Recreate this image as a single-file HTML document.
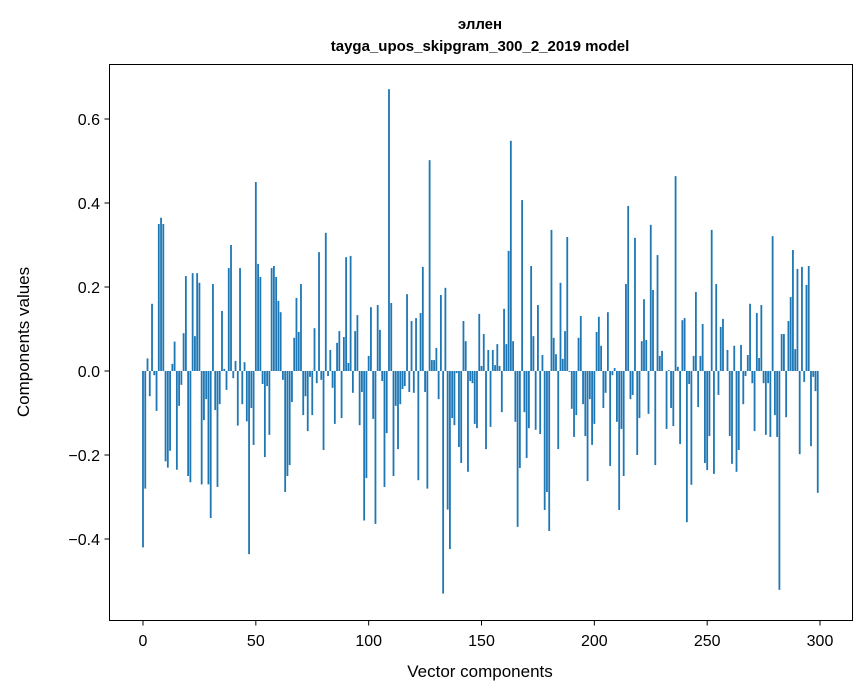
<!DOCTYPE html>
<html><head><meta charset="utf-8"><style>
body{margin:0;background:#fff;}
svg{display:block;font-family:"Liberation Sans","DejaVu Sans",sans-serif;}
</style></head><body>
<svg id="chart" width="867" height="696">
<text x="480" y="29" text-anchor="middle" font-size="15" font-weight="bold">эллен</text>
<text x="480" y="51" text-anchor="middle" font-size="15" font-weight="bold">tayga_upos_skipgram_300_2_2019 model</text>
<g id="bars"></g>
<rect x="109.5" y="64.5" width="743" height="556" fill="none" stroke="#000" stroke-width="1"/>
<g id="axes"></g>
<text x="480" y="677" text-anchor="middle" font-size="17">Vector components</text>
<text transform="translate(29,342) rotate(-90)" text-anchor="middle" font-size="17">Components values</text>
</svg>
<script>
const values = [-0.42,-0.28,0.03,-0.06,0.16,-0.01,-0.095,0.35,0.365,0.35,-0.215,-0.23,-0.19,0.017,0.07,-0.235,-0.083,-0.033,0.09,0.226,
-0.25,-0.265,0.233,0.083,0.233,0.21,-0.27,-0.117,-0.067,-0.27,-0.35,0.207,-0.093,-0.276,-0.079,0.143,0.005,-0.045,0.245,0.3,
-0.017,0.024,-0.13,0.245,-0.079,0.021,-0.12,-0.436,-0.088,-0.176,0.45,0.255,0.224,-0.031,-0.205,-0.036,-0.152,0.245,0.25,0.224,
0.167,0.14,-0.021,-0.288,-0.25,-0.224,-0.074,0.079,0.174,0.093,0.207,-0.105,-0.06,-0.143,-0.014,-0.105,0.102,-0.029,0.283,-0.021,
-0.188,0.329,-0.012,0.05,-0.04,-0.126,0.067,0.095,-0.112,0.081,0.271,0.019,0.274,-0.052,0.095,0.133,-0.129,-0.05,-0.356,-0.255,
0.036,0.152,-0.114,-0.364,0.157,0.098,-0.024,-0.276,-0.148,0.671,0.162,-0.25,-0.083,-0.186,-0.079,-0.043,-0.036,0.183,-0.05,0.119,
-0.052,0.126,-0.26,0.138,0.248,-0.05,-0.28,0.502,0.026,0.026,0.055,-0.067,0.181,-0.53,0.198,-0.33,-0.424,-0.112,-0.129,-0.005,
-0.181,-0.219,0.119,0.071,-0.24,-0.024,-0.029,-0.126,-0.136,0.136,0.012,0.088,-0.186,0.05,-0.133,0.05,0.014,0.064,0.012,-0.098,
0.148,0.064,0.286,0.548,0.071,-0.121,-0.371,-0.231,0.407,-0.098,-0.207,-0.136,0.25,0.083,-0.14,0.157,-0.15,0.038,-0.331,-0.288,
-0.381,0.336,0.079,0.04,-0.186,0.21,0.029,0.095,0.319,-0.002,-0.09,-0.157,-0.105,0.079,0.131,-0.079,-0.155,-0.262,-0.067,-0.176,
-0.126,0.093,0.129,0.06,-0.088,-0.052,0.14,-0.226,-0.01,0.007,-0.121,-0.331,-0.138,-0.25,0.207,0.393,-0.067,-0.057,0.317,-0.2,
-0.112,0.071,0.171,0.074,-0.102,0.348,0.193,-0.224,0.276,0.036,0.048,0,-0.138,0.002,-0.088,-0.131,0.464,0.01,-0.174,0.121,
0.126,-0.36,-0.031,-0.271,0.036,0.188,-0.086,0.036,0.112,-0.219,-0.236,-0.155,0.336,-0.245,0.207,-0.057,0.105,0.124,0.0,0.05,
-0.155,-0.221,0.06,-0.24,-0.188,0.062,-0.079,-0.012,0.038,0.16,-0.029,-0.143,0.138,0.031,0.157,-0.029,-0.152,-0.029,-0.157,0.321,
-0.105,-0.157,-0.521,0.088,0.088,-0.11,0.119,0.176,0.288,0.052,0.243,-0.198,0.248,-0.026,0.205,0.25,-0.179,-0.014,-0.048,-0.29];
const xTicks = [0,50,100,150,200,250,300];
const yTicks = [-0.4,-0.2,0.0,0.2,0.4,0.6];
const yTickLabels = ["\u22120.4","\u22120.2","0.0","0.2","0.4","0.6"];

const NS="http://www.w3.org/2000/svg";
const xs = v => 143 + v*2.2567;
const ys = v => 371 - v*420;
const bars=document.getElementById('bars');
values.forEach((v,i)=>{
  const r=document.createElementNS(NS,'rect');
  const y0=ys(Math.max(v,0)), y1=ys(Math.min(v,0));
  r.setAttribute('x',xs(i-0.4));
  r.setAttribute('width',0.8*2.2567);
  r.setAttribute('y',y0);
  r.setAttribute('height',Math.max(y1-y0,0));
  r.setAttribute('fill','#1f77b4');
  
  
  bars.appendChild(r);
});
const ax=document.getElementById('axes');
xTicks.forEach(t=>{
  const l=document.createElementNS(NS,'line');
  l.setAttribute('x1',xs(t));l.setAttribute('x2',xs(t));
  l.setAttribute('y1',620.5);l.setAttribute('y2',625.5);
  l.setAttribute('stroke','#000');
  
  
  ax.appendChild(l);
  const tx=document.createElementNS(NS,'text');
  tx.setAttribute('x',xs(t));tx.setAttribute('y',646);
  tx.setAttribute('text-anchor','middle');tx.setAttribute('font-size','16');
  tx.textContent=t;
  
  
  ax.appendChild(tx);
});
yTicks.forEach((t,i)=>{
  const l=document.createElementNS(NS,'line');
  l.setAttribute('x1',104.5);l.setAttribute('x2',109.5);
  l.setAttribute('y1',ys(t));l.setAttribute('y2',ys(t));
  l.setAttribute('stroke','#000');
  
  
  ax.appendChild(l);
  const tx=document.createElementNS(NS,'text');
  tx.setAttribute('x',100);tx.setAttribute('y',ys(t)+6);
  tx.setAttribute('text-anchor','end');tx.setAttribute('font-size','16');
  tx.textContent=yTickLabels[i];
  
  
  ax.appendChild(tx);
});
</script>
</body></html>
